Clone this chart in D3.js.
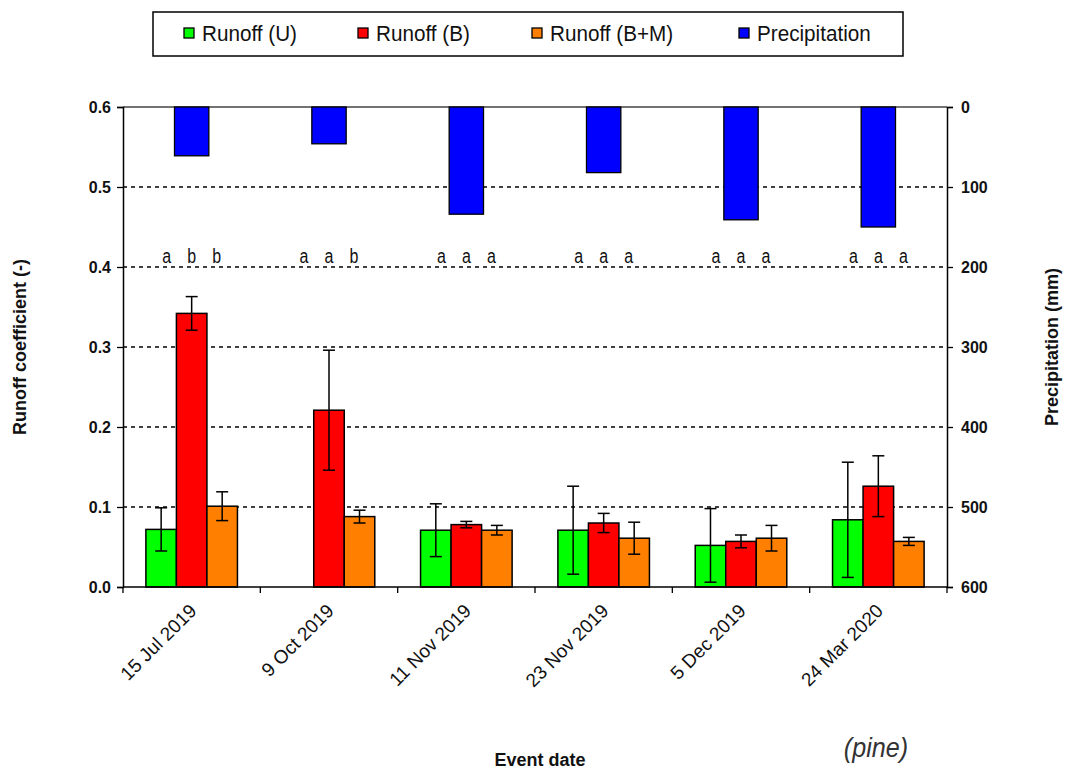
<!DOCTYPE html>
<html>
<head>
<meta charset="utf-8">
<script src="https://cdn.jsdelivr.net/npm/d3@7/dist/d3.min.js"></script>
<style>
  html, body { margin: 0; padding: 0; background: #fff; }
  svg { display: block; font-family: "Liberation Sans", Arial, sans-serif; }
</style>
</head>
<body>
<svg id="chart" width="1065" height="772"></svg>
<script>
// Event dates (x categories)
const eventDates = ["15 Jul 2019", "9 Oct 2019", "11 Nov 2019", "23 Nov 2019", "5 Dec 2019", "24 Mar 2020"];

// Runoff coefficients (-) and their error half-widths
const runoffU     = [0.072, null, 0.071, 0.071, 0.052, 0.084];
const runoffUErr  = [0.027, null, 0.033, 0.055, 0.046, 0.072];
const runoffB     = [0.342, 0.221, 0.078, 0.080, 0.057, 0.126];
const runoffBErr  = [0.021, 0.075, 0.004, 0.012, 0.008, 0.038];
const runoffBM    = [0.101, 0.088, 0.071, 0.061, 0.061, 0.057];
const runoffBMErr = [0.018, 0.008, 0.006, 0.020, 0.016, 0.005];

// Event precipitation (mm), drawn hanging from the top
const precipitation = [61, 46, 134, 82, 141, 150];

// Significance letters per event (U, B, B+M)
const sigLetters = [
  ["a", "b", "b"],
  ["a", "a", "b"],
  ["a", "a", "a"],
  ["a", "a", "a"],
  ["a", "a", "a"],
  ["a", "a", "a"]
];

// Axis ticks
const runoffTicks = [0, 0.1, 0.2, 0.3, 0.4, 0.5, 0.6];
const precipTicks = [0, 100, 200, 300, 400, 500, 600];

const seriesNames = ["Runoff (U)", "Runoff (B)", "Runoff (B+M)", "Precipitation"];
const seriesColors = ["#00ff00", "#ff0000", "#ff8000", "#0000ff"];

const runoffSeries = [
  { key: "U",  values: runoffU,  errs: runoffUErr,  color: seriesColors[0] },
  { key: "B",  values: runoffB,  errs: runoffBErr,  color: seriesColors[1] },
  { key: "BM", values: runoffBM, errs: runoffBMErr, color: seriesColors[2] }
];

const svg = d3.select("#chart");
const plot = { left: 123, right: 947, top: 107, bottom: 587 };

const x = d3.scaleBand().domain(eventDates).range([plot.left, plot.right]).padding(0);
const bw = x.bandwidth();
const xSub = d3.scaleBand().domain(runoffSeries.map(s => s.key))
  .range([bw / 6, bw * 5 / 6]).padding(0);
const y = d3.scaleLinear().domain([0, 0.6]).range([plot.bottom, plot.top]);
const yP = d3.scaleLinear().domain([0, 600]).range([plot.top, plot.bottom]);

// Dashed gridlines
svg.append("g").selectAll("line")
  .data(runoffTicks.filter(t => t > 0 && t < 0.6))
  .join("line")
  .attr("x1", plot.left).attr("x2", plot.right)
  .attr("y1", d => y(d)).attr("y2", d => y(d))
  .attr("stroke", "#000").attr("stroke-width", 1.3)
  .attr("stroke-dasharray", "4,4");

// Top frame line
svg.append("line")
  .attr("x1", plot.left).attr("x2", plot.right)
  .attr("y1", y(0.6)).attr("y2", y(0.6))
  .attr("stroke", "#444").attr("stroke-width", 1.5);

// Precipitation bars
const pw = bw * 0.25;
svg.append("g").selectAll("rect")
  .data(eventDates.map((d, i) => ({ d, v: precipitation[i] })))
  .join("rect")
  .attr("x", p => x(p.d) + bw / 2 - pw / 2)
  .attr("y", yP(0))
  .attr("width", pw)
  .attr("height", p => yP(p.v) - yP(0))
  .attr("fill", seriesColors[3])
  .attr("stroke", "#000").attr("stroke-width", 1.3);

// Runoff bars
const barG = svg.append("g");
runoffSeries.forEach(s => {
  const pts = eventDates.map((d, i) => ({ d, v: s.values[i], e: s.errs[i] }))
    .filter(p => p.v != null);
  barG.append("g").selectAll("rect")
    .data(pts)
    .join("rect")
    .attr("x", p => x(p.d) + xSub(s.key))
    .attr("y", p => y(p.v))
    .attr("width", xSub.bandwidth())
    .attr("height", p => y(0) - y(p.v))
    .attr("fill", s.color)
    .attr("stroke", "#000").attr("stroke-width", 1.5);
});

// Error bars
runoffSeries.forEach(s => {
  const pts = eventDates.map((d, i) => ({ d, v: s.values[i], e: s.errs[i] }))
    .filter(p => p.v != null);
  const g = barG.append("g").attr("stroke", "#000").attr("stroke-width", 1.5);
  pts.forEach(p => {
    const cx = x(p.d) + xSub(s.key) + xSub.bandwidth() / 2;
    const cap = 6;
    g.append("line").attr("x1", cx).attr("x2", cx)
      .attr("y1", y(p.v + p.e)).attr("y2", y(p.v - p.e));
    g.append("line").attr("x1", cx - cap).attr("x2", cx + cap)
      .attr("y1", y(p.v + p.e)).attr("y2", y(p.v + p.e));
    g.append("line").attr("x1", cx - cap).attr("x2", cx + cap)
      .attr("y1", y(p.v - p.e)).attr("y2", y(p.v - p.e));
  });
});

// Significance letters
const letterG = svg.append("g");
eventDates.forEach((d, i) => {
  sigLetters[i].forEach((l, j) => {
    const lx = x(d) + bw / 2 + (j - 1) * 25;
    letterG.append("text")
      .attr("transform", `translate(${lx},263) scale(0.8,1)`)
      .attr("text-anchor", "middle")
      .attr("font-size", 20)
      .attr("fill", "#111")
      .text(l);
  });
});

// Left axis
const leftAxis = svg.append("g")
  .attr("transform", `translate(${plot.left},0)`)
  .call(d3.axisLeft(y).tickValues(runoffTicks).tickFormat(d3.format(".1f")).tickSize(6).tickPadding(6));
leftAxis.select(".domain").attr("stroke", "#000").attr("stroke-width", 1.5);
leftAxis.selectAll(".tick line").attr("stroke", "#000").attr("stroke-width", 1.3);
leftAxis.selectAll(".tick text")
  .attr("font-size", 16).attr("font-weight", "bold").attr("fill", "#111")
  .attr("font-family", "'Liberation Sans', Arial, sans-serif");

// Right axis
const rightAxis = svg.append("g")
  .attr("transform", `translate(${plot.right},0)`)
  .call(d3.axisRight(yP).tickValues(precipTicks).tickFormat(d3.format("d")).tickSize(6).tickPadding(8));
rightAxis.select(".domain").attr("stroke", "#000").attr("stroke-width", 1.5);
rightAxis.selectAll(".tick line").attr("stroke", "#000").attr("stroke-width", 1.3);
rightAxis.selectAll(".tick text")
  .attr("font-size", 16).attr("font-weight", "bold").attr("fill", "#111")
  .attr("font-family", "'Liberation Sans', Arial, sans-serif");

// Bottom axis: line, boundary ticks, rotated date labels
svg.append("line")
  .attr("x1", plot.left).attr("x2", plot.right)
  .attr("y1", y(0)).attr("y2", y(0))
  .attr("stroke", "#000").attr("stroke-width", 1.5);
const boundaries = eventDates.map(d => x(d)).concat([x(eventDates[eventDates.length - 1]) + bw]);
svg.append("g").selectAll("line")
  .data(boundaries)
  .join("line")
  .attr("x1", d => d).attr("x2", d => d)
  .attr("y1", y(0)).attr("y2", y(0) + 6)
  .attr("stroke", "#000").attr("stroke-width", 1.3);
svg.append("g").selectAll("text")
  .data(eventDates)
  .join("text")
  .attr("transform", d => `translate(${x(d) + bw / 2 + 6},612) rotate(-45)`)
  .attr("text-anchor", "end")
  .attr("font-size", 19)
  .attr("fill", "#111")
  .text(d => d);

// Axis titles
svg.append("text")
  .attr("transform", `translate(26,347) rotate(-90)`)
  .attr("text-anchor", "middle")
  .attr("font-size", 18).attr("font-weight", "bold").attr("fill", "#111")
  .text("Runoff coefficient (-)");
svg.append("text")
  .attr("transform", `translate(1058,347) rotate(-90)`)
  .attr("text-anchor", "middle")
  .attr("font-size", 18).attr("font-weight", "bold").attr("fill", "#111")
  .text("Precipitation (mm)");
svg.append("text")
  .attr("x", 540).attr("y", 766)
  .attr("text-anchor", "middle")
  .attr("font-size", 18).attr("font-weight", "bold").attr("fill", "#111")
  .text("Event date");
svg.append("text")
  .attr("transform", `translate(876,757) scale(0.9,1)`)
  .attr("text-anchor", "middle")
  .attr("font-size", 28).attr("font-style", "italic").attr("fill", "#333")
  .text("(pine)");

// Legend
const legend = svg.append("g");
legend.append("rect")
  .attr("x", 153).attr("y", 12).attr("width", 750).attr("height", 44)
  .attr("fill", "#fff").attr("stroke", "#000").attr("stroke-width", 1.5);
const legendX = [184, 358, 532, 739];
seriesNames.forEach((name, i) => {
  legend.append("rect")
    .attr("x", legendX[i]).attr("y", 28).attr("width", 10).attr("height", 10)
    .attr("fill", seriesColors[i]).attr("stroke", "#000").attr("stroke-width", 1.3);
  legend.append("text")
    .attr("transform", `translate(${legendX[i] + 18},41) scale(0.94,1)`)
    .attr("font-size", 22).attr("fill", "#111")
    .text(name);
});
</script>
</body>
</html>
